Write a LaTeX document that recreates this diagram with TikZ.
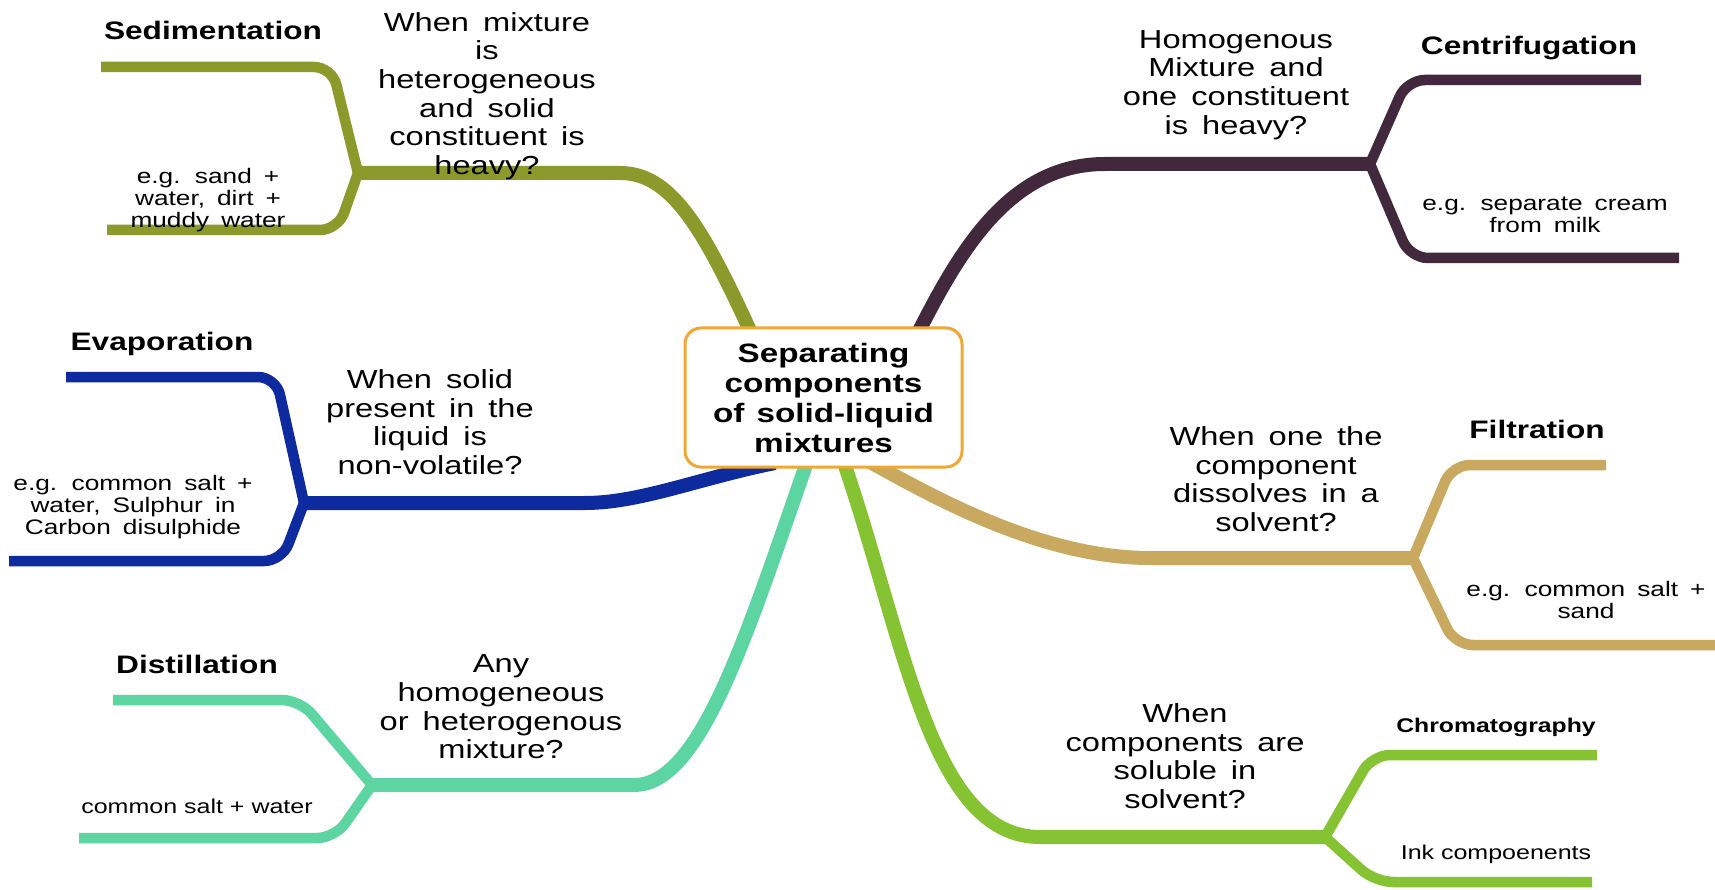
\documentclass[tikz,border=0pt]{standalone}
\usepackage{fontspec}
\setmainfont{Liberation Sans}[FakeStretch=1.25]
\definecolor{cOlive}{HTML}{8C9A2B}
\definecolor{cPlum}{HTML}{41283D}
\definecolor{cBlue}{HTML}{0D2B9E}
\definecolor{cTeal}{HTML}{5DD5A2}
\definecolor{cTan}{HTML}{C9A85F}
\definecolor{cGreen}{HTML}{86C332}
\definecolor{cOrange}{HTML}{EFA834}
\newcommand{\wsA}{\spaceskip=14pt\relax}
\newcommand{\wsB}{\spaceskip=12pt\relax}
\begin{document}
\begin{tikzpicture}[x=1pt,y=-1pt,
  brmain/.style={line width=14pt},
  brsub/.style={line width=10.5pt, rounded corners=18pt},
  qtxt/.style={align=center, inner sep=0pt, font=\fontsize{26.1}{28.6}\selectfont, execute at begin node=\wsA},
  extxt/.style={align=center, inner sep=0pt, font=\fontsize{21}{22}\selectfont, execute at begin node=\wsB},
  extxtb/.style={inner sep=0pt, font=\fontsize{20}{24}\selectfont},
  hdtxt/.style={inner sep=0pt, font=\bfseries\fontsize{25.3}{30}\selectfont},
  hdtxtb/.style={inner sep=0pt, font=\bfseries\fontsize{19.8}{24}\selectfont}
]
\fill[white] (0,0) rectangle (1715,890);
\useasboundingbox (0,0) rectangle (1715,890);

% ---------- coordinates ----------
% olive
\coordinate (oJ) at (358,173); \coordinate (oH) at (620,173); \coordinate (oC) at (752,335);
\coordinate (oT) at (101,67); \coordinate (oTc) at (332,67);
\coordinate (oB) at (107,230); \coordinate (oBc) at (338,230);
% plum
\coordinate (pC) at (917,335); \coordinate (pH) at (1105,164); \coordinate (pJ) at (1370,164);
\coordinate (pTc) at (1407,80); \coordinate (pT) at (1641,80);
\coordinate (pBc) at (1410,258); \coordinate (pB) at (1679,258);
% blue
\coordinate (bJ) at (304,503); \coordinate (bH) at (585,503); \coordinate (bC) at (775,463);
\coordinate (bT) at (66,377); \coordinate (bTc) at (276,377);
\coordinate (bB) at (9,561); \coordinate (bBc) at (282,561);
% teal
\coordinate (tJ) at (372,785); \coordinate (tH) at (634,785); \coordinate (tC) at (807,462);
\coordinate (tT) at (113,700); \coordinate (tTc) at (300,700);
\coordinate (tB) at (79,838); \coordinate (tBc) at (335,838);
% tan
\coordinate (fC) at (870,462); \coordinate (fH) at (1150,558); \coordinate (fJ) at (1413,558);
\coordinate (fTc) at (1452,465); \coordinate (fT) at (1606,465);
\coordinate (fBc) at (1455,645); \coordinate (fB) at (1715,645);
% green
\coordinate (gC) at (843,460); \coordinate (gH) at (1040,837); \coordinate (gJ) at (1325,837);
\coordinate (gTc) at (1372,755); \coordinate (gT) at (1597,755);
\coordinate (gBc) at (1375,882); \coordinate (gB) at (1592,882);

% ---------- branches ----------
\draw[brmain,cOlive] (oJ) -- (oH) .. controls (670,173) and (702,225) .. (oC);
\draw[brsub,cOlive] (oT) -- (oTc) -- (oJ);
\draw[brsub,cOlive] (oB) -- (oBc) -- (oJ);

\draw[brmain,cPlum] (pC) .. controls (960,250) and (1010,164) .. (pH) -- (pJ);
\draw[brsub,cPlum] (pJ) -- (pTc) -- (pT);
\draw[brsub,cPlum] (pJ) -- (pBc) -- (pB);

\draw[brmain,cBlue] (bJ) -- (bH) .. controls (640,503) and (700,478) .. (bC);
\draw[brsub,cBlue] (bT) -- (bTc) -- (bJ);
\draw[brsub,cBlue] (bB) -- (bBc) -- (bJ);

\draw[brmain,cTeal] (tJ) -- (tH) .. controls (700,785) and (745,640) .. (tC);
\draw[brsub,cTeal] (tT) -- (tTc) -- (tJ);
\draw[brsub,cTeal] (tB) -- (tBc) -- (tJ);

\draw[brmain,cTan] (fC) .. controls (930,495) and (1040,558) .. (fH) -- (fJ);
\draw[brsub,cTan] (fJ) -- (fTc) -- (fT);
\draw[brsub,cTan] (fJ) -- (fBc) -- (fB);

\draw[brmain,cGreen] (gC) .. controls (905,640) and (930,837) .. (gH) -- (gJ);
\draw[brsub,cGreen] (gJ) -- (gTc) -- (gT);
\draw[brsub,cGreen] (gJ) -- (gBc) -- (gB);

% ---------- centre ----------
\node[draw=cOrange, line width=3pt, fill=white, rounded corners=16pt,
      minimum width=277pt, minimum height=139pt, inner sep=0pt, align=center,
      font=\bfseries\fontsize{26.6}{30}\selectfont, execute at begin node=\wsB]
  (center) at (823.5,397.5) {Separating\\components\\of solid-liquid\\mixtures};

% ---------- texts ----------
\node[hdtxt] (hSed) at (213,30) {Sedimentation};
\node[qtxt] (qSed) at (487,96) {When mixture\\is\\heterogeneous\\and solid\\constituent is\\heavy?};
\node[extxt] (eSed) at (208,200) {e.g. sand +\\water, dirt +\\muddy water};

\node[hdtxt] (hCen) at (1529,48) {Centrifugation};
\node[qtxt] (qCen) at (1236,85) {Homogenous\\Mixture and\\one constituent\\is heavy?};
\node[extxt] (eCen) at (1545,215) {e.g. separate cream\\from milk};

\node[hdtxt] (hEva) at (162,344) {Evaporation};
\node[qtxt] (qEva) at (430,422) {When solid\\present in the\\liquid is\\non-volatile?};
\node[extxt] (eEva) at (133,507) {e.g. common salt +\\water, Sulphur in\\Carbon disulphide};

\node[hdtxt] (hDis) at (197,664) {Distillation};
\node[qtxt] (qDis) at (501,707) {Any\\homogeneous\\or heterogenous\\mixture?};
\node[extxtb] (eDis) at (197,806) {common salt + water};

\node[hdtxt] (hFil) at (1537,429) {Filtration};
\node[qtxt] (qFil) at (1276,479) {When one the\\component\\dissolves in a\\solvent?};
\node[extxt] (eFil) at (1586,600) {e.g. common salt +\\sand};

\node[hdtxtb] (hChr) at (1496,727) {Chromatography};
\node[qtxt] (qChr) at (1185,756) {When\\components are\\soluble in\\solvent?};
\node[extxtb] (eChr) at (1496,854) {Ink compoenents};
\end{tikzpicture}
\end{document}
